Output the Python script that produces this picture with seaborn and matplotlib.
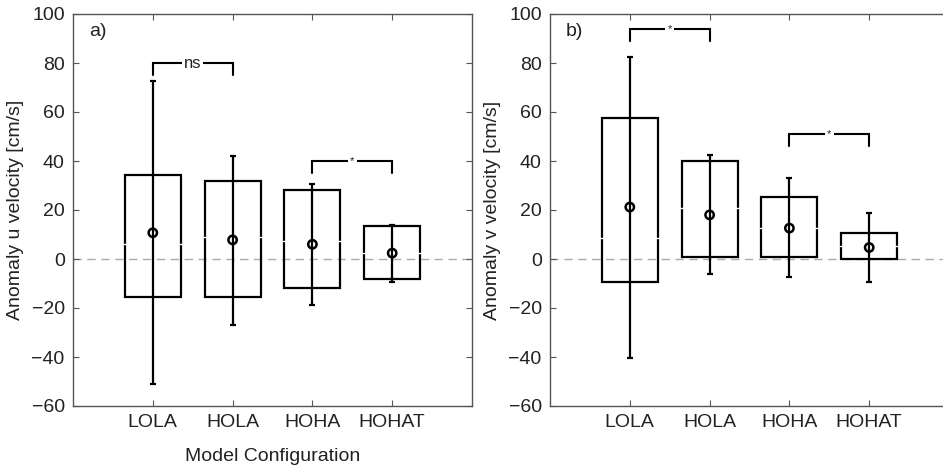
import matplotlib
matplotlib.use("Agg")
import matplotlib.pyplot as plt
import seaborn as sns
import pandas as pd
import numpy as np

categories = ["LOLA", "HOLA", "HOHA", "HOHAT"]

# Panel a: u velocity
u_mean = [10.7, 7.8, 6.0, 2.4]
u_median = [6.2, 8.9, 7.3, 2.3]
u_q1 = [-15.6, -15.4, -11.7, -8.3]
u_q3 = [34.3, 32.0, 28.1, 13.5]
u_low = [-51.0, -27.0, -18.8, -9.3]
u_high = [72.5, 42.2, 30.8, 14.0]

# Panel b: v velocity
v_mean = [21.2, 18.0, 12.6, 4.7]
v_median = [8.7, 21.0, 12.8, 5.4]
v_q1 = [-9.3, 0.7, 0.7, 0.0]
v_q3 = [57.6, 40.2, 25.3, 10.6]
v_low = [-40.3, -6.3, -7.2, -9.5]
v_high = [82.5, 42.5, 33.0, 18.8]

# significance brackets: (i, j, height, label)
u_sig = [(0, 1, 80, "ns"), (2, 3, 40, "*")]
v_sig = [(0, 1, 94, "*"), (2, 3, 51, "*")]

ylabels = ["Anomaly u velocity [cm/s]", "Anomaly v velocity [cm/s]"]
panel_tags = ["a)", "b)"]
yticks = [-60, -40, -20, 0, 20, 40, 60, 80, 100]

sns.set_style("white")
plt.rcParams["font.family"] = ["Liberation Sans", "DejaVu Sans"]

fig = plt.figure(figsize=(9.43, 4.70), dpi=100)
ax_a = fig.add_axes([73 / 943, 64 / 470, 399 / 943, 392 / 470])
# panel b is cut off at the right edge of the figure
ax_b = fig.add_axes([550 / 943, 64 / 470, 393 / 943, 392 / 470])

axis_col = "#555555"
text_col = "#222222"


def draw(ax, mean, median, q1, q3, low, high, sig, ylabel, tag, xlabel, xmax, cut_right):
    df = pd.DataFrame({"cfg": categories, "mean": mean, "median": median,
                       "q1": q1, "q3": q3, "low": low, "high": high})
    pos = np.arange(len(categories))
    ax.axhline(0, color="#aaaaaa", lw=1.0, ls=(0, (6, 4)), zorder=0)
    ax.bar(pos, df["q3"] - df["q1"], bottom=df["q1"], width=0.7,
           fill=False, edgecolor="black", linewidth=1.6, zorder=2)
    # faint white medians
    for p, m in zip(pos, df["median"]):
        ax.plot([p - 0.37, p + 0.37], [m, m], color="white", lw=1.0, zorder=3)
    ax.errorbar(pos, df["mean"], yerr=[df["mean"] - df["low"], df["high"] - df["mean"]],
                fmt="none", ecolor="black", elinewidth=1.6, capsize=2.5,
                capthick=1.6, zorder=4)
    sns.scatterplot(data=df, x=pos, y="mean", ax=ax, marker="o", s=36,
                    facecolor="none", edgecolor="black", linewidth=1.8,
                    zorder=5, legend=False)
    for i, j, h, lab in sig:
        leg = 5
        ax.plot([i, i, j, j], [h - leg, h, h, h - leg], color="black",
                lw=1.5, zorder=6, solid_joinstyle="miter")
        ax.text((i + j) / 2, h, lab, ha="center", va="center",
                fontsize=12 if lab == "ns" else 8, color=text_col, zorder=7,
                bbox=dict(facecolor="white", edgecolor="none", pad=1.5))
    ax.set_xlim(-1, xmax)
    ax.set_ylim(-60, 100)
    ax.set_xticks(pos)
    ax.set_xticklabels(categories)
    ax.set_yticks(yticks)
    ax.set_yticklabels([str(t).replace("-", "\u2212") for t in yticks])
    ax.tick_params(direction="in", length=4, width=0.8, color=axis_col,
                   labelsize=14, labelcolor=text_col, top=True,
                   right=not cut_right, left=True, bottom=True, pad=6)
    for s in ax.spines.values():
        s.set_color(axis_col)
        s.set_linewidth(1.0)
    if cut_right:
        ax.spines["right"].set_visible(False)
    ax.set_ylabel(ylabel, fontsize=14, color=text_col, labelpad=5)
    ax.set_xlabel(xlabel, fontsize=14, color=text_col, labelpad=12)
    ax.text(-0.8, 93, tag, fontsize=14, color=text_col, ha="left", va="center")


draw(ax_a, u_mean, u_median, u_q1, u_q3, u_low, u_high, u_sig, ylabels[0],
     panel_tags[0], "Model Configuration", 4, False)
draw(ax_b, v_mean, v_median, v_q1, v_q3, v_low, v_high, v_sig, ylabels[1],
     panel_tags[1], "", 4 - 6 / 79.8, True)

fig.savefig("out.png", dpi=100)
